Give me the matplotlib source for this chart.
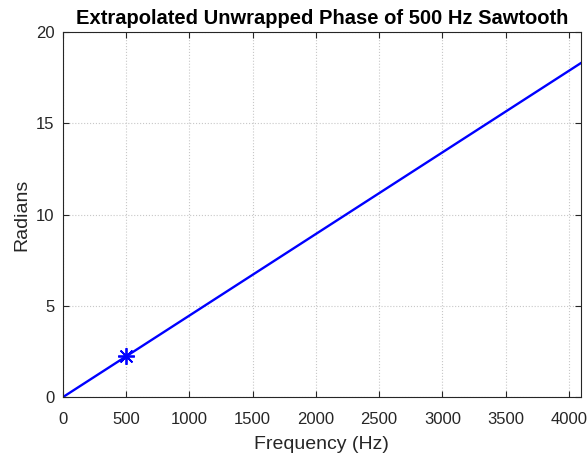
import matplotlib
matplotlib.use('Agg')
import matplotlib.pyplot as plt
import numpy as np

plt.rcParams['font.family'] = ['Liberation Sans', 'DejaVu Sans']

freq = [0, 4096]            # Hz
phase = [0, 18.3]           # radians
marker_freq = [500]
marker_phase = [2.23]

fig = plt.figure(figsize=(5.88, 4.57), dpi=100)
ax = fig.add_axes([0.107, 0.131, 0.881, 0.799])

ax.plot(freq, phase, color='#0000ff', linewidth=1.7)
ax.plot(marker_freq, marker_phase, marker=(8, 2, 0), color='#0000ff',
        markersize=12, markeredgewidth=1.3, linestyle='none')

ax.set_xlim(0, 4096)
ax.set_ylim(0, 20)
ax.set_xticks(np.arange(0, 4001, 500))
ax.set_yticks(np.arange(0, 21, 5))
ax.grid(True, linestyle=':', color='#c8c8c8', linewidth=0.8)
ax.tick_params(direction='in', top=True, right=True, labelsize=12,
               length=4, colors='#262626')
ax.tick_params(axis='x', pad=10.5)
ax.tick_params(axis='y', pad=6)
for s in ax.spines.values():
    s.set_linewidth(0.8)
    s.set_color('#262626')

ax.set_xlabel('Frequency (Hz)', fontsize=14, color='#262626', labelpad=7)
ax.set_ylabel('Radians', fontsize=14, color='#262626', labelpad=4)
ax.set_title('Extrapolated Unwrapped Phase of 500 Hz Sawtooth', fontsize=14.5,
             fontweight='bold', pad=6)

fig.savefig('out.png', dpi=100)
